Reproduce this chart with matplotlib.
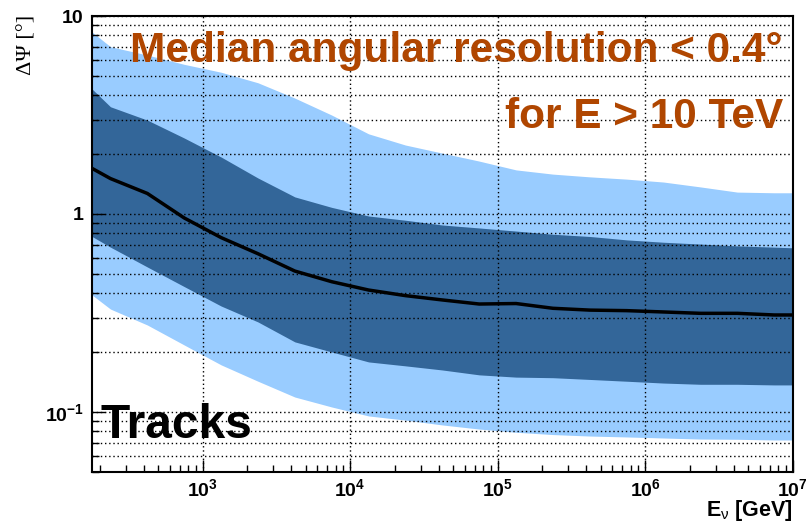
import matplotlib
matplotlib.use("Agg")
import matplotlib.pyplot as plt
import numpy as np
from matplotlib.ticker import LogLocator, NullFormatter

plt.rcParams['font.family'] = ['Liberation Sans', 'DejaVu Sans']
plt.rcParams['mathtext.fontset'] = 'custom'
plt.rcParams['mathtext.rm'] = 'Liberation Sans'
plt.rcParams['mathtext.bf'] = 'Liberation Sans:bold'
plt.rcParams['mathtext.it'] = 'Liberation Sans'

# log10(E/GeV) of the points (bin centres, plus the two axis edges)
log_e = [2.25, 2.375, 2.625, 2.875, 3.125, 3.375, 3.625, 3.875, 4.125, 4.375, 4.625,
         4.875, 5.125, 5.375, 5.625, 5.875, 6.125, 6.375, 6.625, 6.875, 7.0]
median = [1.70, 1.51, 1.27, 0.955, 0.76, 0.63, 0.515, 0.455, 0.413, 0.387, 0.368,
          0.351, 0.353, 0.334, 0.327, 0.325, 0.32, 0.315, 0.315, 0.309, 0.309]
dark_hi = [4.28, 3.48, 2.98, 2.42, 1.94, 1.52, 1.22, 1.08, 0.977, 0.93, 0.88,
           0.85, 0.82, 0.79, 0.77, 0.74, 0.72, 0.705, 0.69, 0.68, 0.675]
dark_lo = [0.77, 0.68, 0.54, 0.43, 0.343, 0.285, 0.226, 0.201, 0.179, 0.171, 0.163,
           0.154, 0.150, 0.149, 0.146, 0.143, 0.140, 0.138, 0.138, 0.137, 0.137]
light_hi = [8.3, 7.0, 6.35, 5.7, 5.2, 4.6, 3.85, 3.16, 2.54, 2.23, 2.03,
            1.85, 1.67, 1.59, 1.54, 1.50, 1.45, 1.37, 1.29, 1.28, 1.28]
light_lo = [0.39, 0.331, 0.275, 0.218, 0.173, 0.143, 0.119, 0.106, 0.0955, 0.091, 0.086,
            0.082, 0.079, 0.0769, 0.0756, 0.0748, 0.0739, 0.073, 0.0728, 0.0722, 0.0722]

xticks = [1e3, 1e4, 1e5, 1e6, 1e7]
xlabels = [r'$\mathbf{10}^{\mathbf{3}}$', r'$\mathbf{10}^{\mathbf{4}}$', r'$\mathbf{10}^{\mathbf{5}}$',
           r'$\mathbf{10}^{\mathbf{6}}$', r'$\mathbf{10}^{\mathbf{7}}$']
yticks = [0.1, 1, 10]
ylabels = [r'$\mathbf{10}^{\mathbf{-1}}$', '1', '10']

energy = 10 ** np.array(log_e)

fig = plt.figure(figsize=(8.08, 5.23), dpi=100)
ax = fig.add_axes([0.1139, 0.0983, 0.8671, 0.8711])

ax.fill_between(energy, light_lo, light_hi, color='#99ccff', lw=0, zorder=1)
ax.fill_between(energy, dark_lo, dark_hi, color='#336699', lw=0, zorder=1.5)
ax.plot(energy, median, color='black', lw=2.5, zorder=3)

ax.set_xscale('log')
ax.set_yscale('log')
ax.set_xlim(10 ** 2.25, 1e7)
ax.set_ylim(0.05, 10)

ax.set_axisbelow(False)
ax.yaxis.set_minor_locator(LogLocator(base=10, subs=np.arange(2, 10)))
ax.xaxis.set_minor_locator(LogLocator(base=10, subs=np.arange(2, 10)))
ax.xaxis.set_minor_formatter(NullFormatter())
ax.yaxis.set_minor_formatter(NullFormatter())
ax.grid(which='major', axis='both', color='black', ls=(0, (1, 2)), lw=1.0)
ax.grid(which='minor', axis='y', color='black', ls=(0, (1, 2)), lw=1.0)

ax.set_xticks(xticks)
ax.set_xticklabels(xlabels)
ax.set_yticks(yticks)
ax.set_yticklabels(ylabels, fontweight='bold')
ax.tick_params(which='both', direction='in', top=False, right=False, labelsize=14, width=1)
ax.tick_params(which='major', length=9)
ax.tick_params(which='minor', length=5)
ax.tick_params(axis='x', pad=5)
ax.tick_params(axis='y', pad=6)
for sp in ax.spines.values():
    sp.set_linewidth(1.5)

fig.text(0.969, 1 - 62 / 523, 'Median angular resolution < 0.4°', ha='right', va='baseline',
         fontsize=30.5, fontweight='bold', color='#b04600')
fig.text(0.969, 1 - 128 / 523, 'for E > 10 TeV', ha='right', va='baseline',
         fontsize=30.5, fontweight='bold', color='#b04600')
fig.text(0.124, 1 - 438 / 523, 'Tracks', ha='left', va='baseline',
         fontsize=34.5, fontweight='bold', color='black')

fig.text(27 / 808, 1 - 15 / 523, 'ΔΨ [°]', rotation=90, ha='center', va='top',
         fontsize=16, family=['Liberation Serif', 'DejaVu Serif'])
fig.text(0.981, 1 - 516 / 523, r'E$_{\nu}$ [GeV]', ha='right', va='baseline',
         fontsize=15.5, fontweight='bold')

fig.savefig('out.png', dpi=100)
